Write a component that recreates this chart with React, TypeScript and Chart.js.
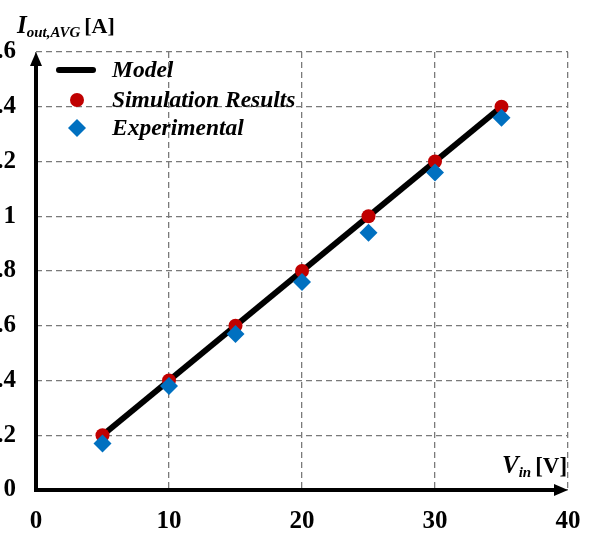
import React, { useEffect, useRef } from "react";
import { Chart, registerables } from "chart.js";

Chart.register(...registerables);

const xValues = [5, 10, 15, 20, 25, 30, 35];
const modelX = [5, 35];
const modelY = [0.2, 1.4];
const simY = [0.2, 0.4, 0.6, 0.8, 1.0, 1.2, 1.4];
const expY = [0.17, 0.38, 0.57, 0.76, 0.94, 1.16, 1.36];
const legendLabels = ["Model", "Simulation Results", "Experimental"];

const SERIF = '"Liberation Serif", "Times New Roman", serif';

const overlayPlugin = {
  id: "overlay",
  afterDraw(chart: any) {
    const ctx = chart.ctx;
    const { left, right, top, bottom } = chart.chartArea;
    ctx.save();
    // axes with arrows
    ctx.strokeStyle = "#000";
    ctx.fillStyle = "#000";
    ctx.lineWidth = 4;
    ctx.setLineDash([]);
    ctx.beginPath();
    ctx.moveTo(left, bottom + 2);
    ctx.lineTo(left, top + 12);
    ctx.stroke();
    ctx.beginPath();
    ctx.moveTo(left - 2, bottom);
    ctx.lineTo(right - 12, bottom);
    ctx.stroke();
    ctx.beginPath();
    ctx.moveTo(left, top);
    ctx.lineTo(left - 6, top + 14);
    ctx.lineTo(left + 6, top + 14);
    ctx.closePath();
    ctx.fill();
    ctx.beginPath();
    ctx.moveTo(right, bottom);
    ctx.lineTo(right - 14, bottom - 6);
    ctx.lineTo(right - 14, bottom + 6);
    ctx.closePath();
    ctx.fill();

    // axis titles
    ctx.textBaseline = "alphabetic";
    ctx.textAlign = "left";
    let x = 17;
    ctx.font = `italic bold 25px ${SERIF}`;
    ctx.fillText("I", x, 33);
    x += ctx.measureText("I").width;
    ctx.font = `italic bold 15px ${SERIF}`;
    ctx.fillText("out,AVG", x, 37);
    x += ctx.measureText("out,AVG").width + 4;
    ctx.font = `bold 22px ${SERIF}`;
    ctx.fillText("[A]", x, 33);

    x = 502;
    ctx.font = `italic bold 25px ${SERIF}`;
    ctx.fillText("V", x, 473);
    x += ctx.measureText("V").width;
    ctx.font = `italic bold 15px ${SERIF}`;
    ctx.fillText("in", x, 477);
    x += ctx.measureText("in").width + 4;
    ctx.font = `bold 23px ${SERIF}`;
    ctx.fillText("[V]", x, 473);

    // legend
    const ds = chart.data.datasets;
    ctx.font = `italic bold 23.5px ${SERIF}`;
    ctx.textBaseline = "middle";
    const rows = [70, 100, 128];
    ctx.strokeStyle = ds[0].borderColor;
    ctx.lineWidth = ds[0].borderWidth;
    ctx.lineCap = "round";
    ctx.beginPath();
    ctx.moveTo(59, rows[0]);
    ctx.lineTo(93, rows[0]);
    ctx.stroke();
    ctx.fillStyle = ds[1].backgroundColor;
    ctx.beginPath();
    ctx.arc(77, rows[1], ds[1].pointRadius, 0, Math.PI * 2);
    ctx.fill();
    const r = ds[2].pointRadius;
    ctx.fillStyle = ds[2].backgroundColor;
    ctx.beginPath();
    ctx.moveTo(77, rows[2] - r);
    ctx.lineTo(77 + r, rows[2]);
    ctx.lineTo(77, rows[2] + r);
    ctx.lineTo(77 - r, rows[2]);
    ctx.closePath();
    ctx.fill();
    ctx.fillStyle = "#000";
    legendLabels.forEach((t, i) => ctx.fillText(t, 112, rows[i] + 1));
    ctx.restore();
  },
};

export default function App() {
  const ref = useRef<HTMLCanvasElement>(null);
  useEffect(() => {
    if (!ref.current) return;
    const chart = new Chart(ref.current, {
      type: "scatter",
      data: {
        datasets: [
          {
            label: legendLabels[0],
            data: modelX.map((x, i) => ({ x, y: modelY[i] })),
            showLine: true,
            borderColor: "#000",
            borderWidth: 6,
            pointRadius: 0,
            order: 3,
          } as any,
          {
            label: legendLabels[1],
            data: xValues.map((x, i) => ({ x, y: simY[i] })),
            backgroundColor: "#C00000",
            borderWidth: 0,
            pointRadius: 7,
            pointStyle: "circle",
            order: 2,
          },
          {
            label: legendLabels[2],
            data: xValues.map((x, i) => ({ x, y: expY[i] })),
            backgroundColor: "#0070C0",
            borderWidth: 0,
            pointRadius: 9,
            pointStyle: "rectRot",
            order: 1,
          },
        ],
      },
      options: {
        animation: false,
        responsive: false,
        layout: { padding: { left: 0, right: 24, top: 52, bottom: 0 } },
        plugins: { legend: { display: false }, tooltip: { enabled: false } },
        scales: {
          x: {
            type: "linear",
            min: 0,
            max: 40,
            ticks: {
              stepSize: 10,
              padding: 17,
              color: "#000",
              font: { family: SERIF, size: 25, weight: "bold" },
            },
            grid: { color: "#7a7a7a", lineWidth: 1.3, drawTicks: false },
            border: { display: false, dash: [6, 4] },
            afterFit: (s: any) => {
              s.height = 43;
              s.paddingRight = 0;
              s.paddingLeft = 0;
            },
          },
          y: {
            type: "linear",
            min: 0,
            max: 1.6,
            ticks: {
              stepSize: 0.2,
              padding: 20,
              color: "#000",
              font: { family: SERIF, size: 25, weight: "bold" },
              callback: (v: any) => String(Number(Number(v).toFixed(1))),
            },
            grid: { color: "#7a7a7a", lineWidth: 1.3, drawTicks: false },
            border: { display: false, dash: [6, 4] },
            afterFit: (s: any) => {
              s.width = 36;
            },
          },
        },
      },
      plugins: [overlayPlugin],
    });
    return () => chart.destroy();
  }, []);
  return (
    <div style={{ position: "fixed", left: 0, top: 0, width: 592, height: 533, background: "#fff" }}>
      <canvas ref={ref} width={592} height={533} style={{ width: 592, height: 533, display: "block" }} />
    </div>
  );
}
